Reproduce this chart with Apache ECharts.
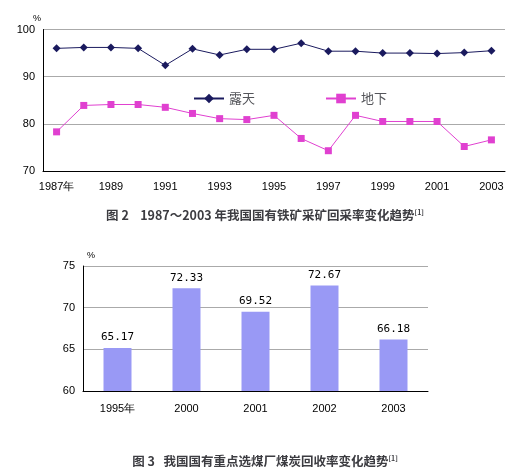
<!DOCTYPE html><html><head><meta charset="utf-8"><script src="https://cdn.jsdelivr.net/npm/echarts@6/dist/echarts.min.js"></script>
<style>html,body{margin:0;background:#fff}#c{width:530px;height:475px}</style></head><body><div id="c"></div><script>
const years1=['1987年','1988','1989','1990','1991','1992','1993','1994','1995','1996','1997','1998','1999','2000','2001','2002','2003'];
const openPit=[96,96.2,96.2,96,92.4,95.9,94.6,95.8,95.8,97.1,95.4,95.4,95,95,94.9,95.1,95.5];
const underground=[78.3,83.9,84.1,84.1,83.5,82.2,81.1,80.9,81.8,76.9,74.3,81.8,80.5,80.5,80.5,75.2,76.6];
const years2=['1995年','2000','2001','2002','2003'];
const coal=[65.17,72.33,69.52,72.67,66.18];
const F='SimSun,"Noto Sans CJK SC",sans-serif';
const ax={axisLine:{lineStyle:{color:'#000'}},axisTick:{lineStyle:{color:'#000'}},axisLabel:{color:'#000',fontSize:11,fontFamily:'Arial,"Liberation Sans",sans-serif'}};
const tStyle={fontSize:12.5,fontWeight:'bold',fontFamily:F,rich:{s:{fontSize:7,fontWeight:'bold',verticalAlign:'top',lineHeight:10,padding:[0,0,8,0]}}};
const c=echarts.init(document.getElementById('c'));
c.setOption({animation:false,
title:[{text:'图 2    1987～2003 年我国国有铁矿采矿回采率变化趋势{s|[1]}',left:'center',top:204,textStyle:tStyle},
{text:'图 3   我国国有重点选煤厂煤炭回收率变化趋势{s|[1]}',left:'center',top:450,textStyle:tStyle}],
legend:{data:['露天','地下'],left:188,top:87,itemGap:70,itemWidth:30,itemHeight:12,textStyle:{fontSize:13,fontFamily:F}},
grid:[{left:43,right:25,top:29.5,height:141.5},{left:83,right:102,top:266,height:125}],
xAxis:[{gridIndex:0,type:'category',data:years1,boundaryGap:true,...ax,axisTick:{interval:0,lineStyle:{color:'#000'}},axisLabel:{...ax.axisLabel,interval:1,margin:10}},
{gridIndex:1,type:'category',data:years2,...ax,axisLabel:{...ax.axisLabel,margin:12}}],
yAxis:[{gridIndex:0,min:70,max:100,interval:10,name:'%',nameGap:6,nameTextStyle:{fontSize:9,align:'left',padding:[0,0,0,-10]},...ax,axisTick:{show:false},axisLine:{show:true,lineStyle:{color:'#000'}},splitLine:{lineStyle:{color:'#aaa'}}},
{gridIndex:1,min:60,max:75,interval:5,name:'%',nameGap:6,nameTextStyle:{fontSize:9,align:'left',padding:[0,0,0,4]},...ax,axisTick:{show:false},axisLine:{show:true,lineStyle:{color:'#000'}},splitLine:{lineStyle:{color:'#aaa'}}}],
series:[
{name:'露天',type:'line',data:openPit,symbol:'diamond',symbolSize:8,itemStyle:{color:'#1a1a5e'},lineStyle:{color:'#1a1a5e',width:1}},
{name:'地下',type:'line',data:underground,symbol:'rect',symbolSize:7,itemStyle:{color:'#e040d0'},lineStyle:{color:'#e040d0',width:1}},
{type:'bar',xAxisIndex:1,yAxisIndex:1,data:coal,barWidth:28,itemStyle:{color:'#9999f5'},label:{show:true,position:'top',color:'#000',fontSize:11,fontFamily:'"DejaVu Sans Mono",monospace',formatter:p=>p.value.toFixed(2)}}
]});
</script></body></html>
